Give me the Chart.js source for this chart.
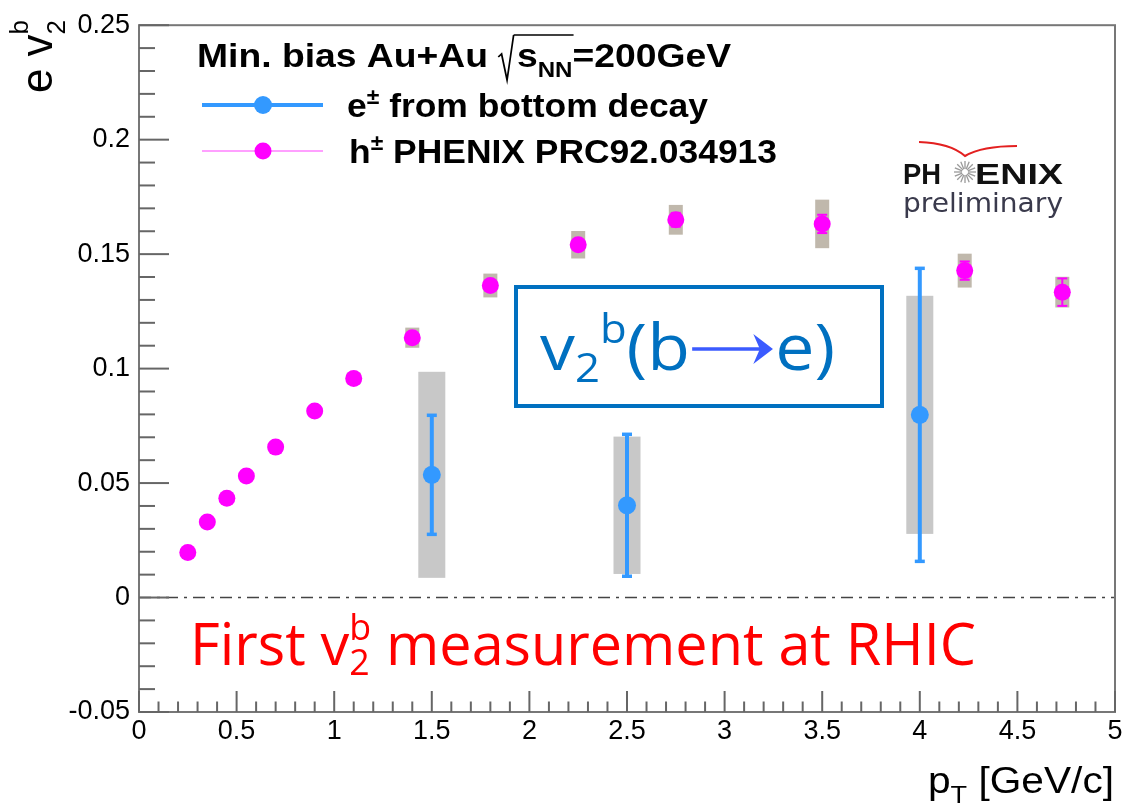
<!DOCTYPE html>
<html><head><meta charset="utf-8">
<script src="https://cdn.jsdelivr.net/npm/chart.js@4.4.1/dist/chart.umd.min.js"></script>
<style>html,body{margin:0;padding:0;background:#fff;}</style>
</head><body>
<canvas id="c" width="1126" height="808"></canvas>
<script>
// ---------------- data ----------------
const xTickLabels = ['0','0.5','1','1.5','2','2.5','3','3.5','4','4.5','5'];
const yTickLabels = ['-0.05','0','0.05','0.1','0.15','0.2','0.25'];

// h+- PHENIX PRC92.034913
const hPt   = [0.25, 0.35, 0.45, 0.55, 0.70, 0.90, 1.10, 1.40, 1.80, 2.25, 2.75, 3.50, 4.23, 4.73];
const hV2   = [0.0197, 0.0330, 0.0434, 0.0531, 0.0657, 0.0815, 0.0957, 0.1135, 0.1363, 0.1541, 0.1650, 0.1632, 0.1428, 0.1334];
const hStat = [0.0003, 0.0003, 0.0003, 0.0004, 0.0004, 0.0005, 0.0006, 0.0008, 0.0010, 0.0020, 0.0030, 0.0040, 0.0040, 0.0060];
const hSys  = [0.0010, 0.0010, 0.0015, 0.0015, 0.0020, 0.0020, 0.0025, 0.0044, 0.0052, 0.0060, 0.0065, 0.0106, 0.0074, 0.0067];

// e+- from bottom decay
const bPt   = [1.5, 2.5, 4.0];
const bV2   = [0.0536, 0.0403, 0.0798];
const bStat = [0.026, 0.031, 0.064];
const bSys  = [0.045, 0.030, 0.052];

const X_MIN = 0, X_MAX = 5, X_STEP = 0.5;
const Y_MIN = -0.05, Y_MAX = 0.25, Y_STEP = 0.05;

// ---------------- helpers ----------------
function segWidth(ctx, s){
  if (s.custom) return s.w;
  if (s.stack){ let m=0; for (const t of s.stack){ ctx.font=t.font; m=Math.max(m, ctx.measureText(t.t).width);} return m; }
  ctx.font = s.font; return ctx.measureText(s.t).width;
}
function drawRich(ctx, x, y, segs, targetW, color){
  let nat = 0; for (const s of segs) nat += segWidth(ctx, s);
  const k = targetW ? targetW/nat : 1;
  ctx.save(); ctx.translate(x, y); ctx.scale(k, 1);
  ctx.fillStyle = color; ctx.strokeStyle = color; ctx.textBaseline = 'alphabetic'; ctx.textAlign='left';
  let cx = 0; const state = {};
  for (const s of segs){
    const w = segWidth(ctx, s);
    if (s.custom) s.custom(ctx, cx, state);
    else if (s.stack){ for (const t of s.stack){ ctx.font=t.font; ctx.fillText(t.t, cx, t.dy||0);} }
    else { ctx.font = s.font; ctx.fillText(s.t, cx, s.dy||0); }
    cx += w;
    if (s.after) s.after(ctx, cx, state);
  }
  ctx.restore();
}
function line(ctx,x1,y1,x2,y2){ ctx.beginPath(); ctx.moveTo(x1,y1); ctx.lineTo(x2,y2); ctx.stroke(); }

// ---------------- plugins ----------------
const errPlugin = {
  id:'errs',
  beforeDatasetsDraw(chart){
    const {ctx, scales:{x, y}} = chart;
    ctx.save();
    ctx.fillStyle = 'rgb(192,184,172)';
    hPt.forEach((p,i)=>{
      const px = x.getPixelForValue(p), y1 = y.getPixelForValue(hV2[i]+hSys[i]), y2 = y.getPixelForValue(hV2[i]-hSys[i]);
      ctx.fillRect(px-7, y1, 14, y2-y1);
    });
    ctx.fillStyle = 'rgb(200,200,200)';
    bPt.forEach((p,i)=>{
      const px = x.getPixelForValue(p), y1 = y.getPixelForValue(bV2[i]+bSys[i]), y2 = y.getPixelForValue(bV2[i]-bSys[i]);
      ctx.fillRect(px-13.5, y1, 27, y2-y1);
    });
    ctx.strokeStyle = '#ff00ff'; ctx.lineWidth = 2;
    hPt.forEach((p,i)=>{
      const px = x.getPixelForValue(p), y1 = y.getPixelForValue(hV2[i]+hStat[i]), y2 = y.getPixelForValue(hV2[i]-hStat[i]);
      line(ctx, px, y1, px, y2); line(ctx, px-5, y1, px+5, y1); line(ctx, px-5, y2, px+5, y2);
    });
    ctx.strokeStyle = '#3399ff';
    bPt.forEach((p,i)=>{
      const px = x.getPixelForValue(p), y1 = y.getPixelForValue(bV2[i]+bStat[i]), y2 = y.getPixelForValue(bV2[i]-bStat[i]);
      ctx.lineWidth = 4; line(ctx, px, y1, px, y2);
      ctx.lineWidth = 3.5; line(ctx, px-5, y1, px+5, y1); line(ctx, px-5, y2, px+5, y2);
    });
    ctx.restore();
  }
};

const decorPlugin = {
  id:'decor',
  afterDraw(chart){
    const {ctx, chartArea:a, scales:{x, y}} = chart;
    ctx.save();
    // frame
    ctx.strokeStyle = '#777'; ctx.lineWidth = 2;
    ctx.strokeRect(a.left, a.top, a.right-a.left, a.bottom-a.top);
    // inward ticks
    ctx.strokeStyle = '#666'; ctx.lineWidth = 2;
    const nY = Math.round((Y_MAX-Y_MIN)/0.01);
    for (let i=0;i<=nY;i++){
      const py = y.getPixelForValue(Y_MIN + i*0.01);
      line(ctx, a.left, py, a.left + (i%5===0 ? 30 : 16), py);
    }
    const nX = Math.round((X_MAX-X_MIN)/0.1);
    for (let i=0;i<=nX;i++){
      const px = x.getPixelForValue(X_MIN + i*0.1);
      line(ctx, px, a.bottom, px, a.bottom - (i%5===0 ? 21 : 10.5));
    }

    // legend
    const dsH = chart.data.datasets[1], dsE = chart.data.datasets[2];
    const B = 'bold 34px "Liberation Sans"', Bs = 'bold 22px "Liberation Sans"';
    drawRich(ctx, 197, 67, [
      {t:'Min. bias Au+Au ', font:B},
      {custom:(c,cx,st)=>{ c.lineWidth=1.6; c.beginPath(); c.moveTo(cx,-10); c.lineTo(cx+3,-13); c.lineTo(cx+8,13); c.lineTo(cx+14,-32); c.stroke(); st.r=cx+14; }, w:17},
      {t:'s', font:B},
      {t:'NN', font:Bs, dy:10, after:(c,cx,st)=>{ c.lineWidth=1.6; line(c, st.r, -32, cx+1, -32); }},
      {t:'=200GeV', font:B}
    ], 534, '#000');
    ctx.strokeStyle = dsE.pointBackgroundColor; ctx.lineWidth = 4; line(ctx, 202, 105, 323, 105);
    ctx.fillStyle = dsE.pointBackgroundColor; ctx.beginPath(); ctx.arc(263,105,9,0,Math.PI*2); ctx.fill();
    drawRich(ctx, 347, 117, [{t:'e', font:B},{t:'\u00B1', font:Bs, dy:-13},{t:' from bottom decay', font:B}], 361, '#000');
    ctx.strokeStyle = '#ff80ff'; ctx.lineWidth = 1.5; line(ctx, 202, 151, 323, 151);
    ctx.fillStyle = dsH.pointBackgroundColor; ctx.beginPath(); ctx.arc(263,151,8.5,0,Math.PI*2); ctx.fill();
    drawRich(ctx, 349, 163, [{t:'h', font:B},{t:'\u00B1', font:Bs, dy:-13},{t:' PHENIX PRC92.034913', font:B}], 428, '#000');

    // PHENIX logo
    ctx.strokeStyle = '#e32020'; ctx.lineWidth = 2.2;
    ctx.beginPath(); ctx.moveTo(919,142); ctx.quadraticCurveTo(950,143,965,156); ctx.quadraticCurveTo(982,146,1017,146); ctx.stroke();
    drawRich(ctx, 903, 184, [{t:'PH', font:'bold 30px "Liberation Sans"'}], 38, '#111');
    drawRich(ctx, 975, 184, [{t:'ENIX', font:'bold 30px "Liberation Sans"'}], 88, '#111');
    ctx.strokeStyle = '#9a9a9a'; ctx.lineWidth = 1.3;
    for (let i=0;i<16;i++){ const ang = i*Math.PI/8; line(ctx, 965+3*Math.cos(ang), 172+3*Math.sin(ang), 965+11*Math.cos(ang), 172+11*Math.sin(ang)); }
    drawRich(ctx, 903, 212, [{t:'preliminary', font:'27px "DejaVu Sans"'}], 160, '#3a3a4c');

    // boxed label
    ctx.strokeStyle = '#0070c0'; ctx.lineWidth = 4;
    ctx.strokeRect(516, 287, 366, 119);
    const BF = '64px "Open Sans"', BFs = '40px "Open Sans"';
    drawRich(ctx, 540, 370, [
      {t:'v', font:BF},{t:'2', font:BFs, dy:12},{t:'b', font:BFs, dy:-27},{t:'(b', font:BF},
      {custom:(c,cx)=>{ c.save(); c.strokeStyle='#3b5bff'; c.fillStyle='#3b5bff'; c.lineWidth=3.5; line(c, cx+2, -21, cx+66, -21);
        c.beginPath(); c.moveTo(cx+76,-21); c.lineTo(cx+58,-36); c.lineTo(cx+64,-21); c.lineTo(cx+58,-6); c.closePath(); c.fill(); c.restore(); }, w:78},
      {t:'e)', font:BF}
    ], 295, '#0070c0');

    // red text
    const RF = '58px "Open Sans"', RFs = '36px "Open Sans"';
    drawRich(ctx, 190, 665, [
      {t:'First v', font:RF},
      {stack:[{t:'b', font:RFs, dy:-25},{t:'2', font:RFs, dy:10}]},
      {t:' measurement at RHIC', font:RF}
    ], 786, '#ff0000');

    // axis titles
    drawRich(ctx, 928, 793, [{t:'p', font:'36px "Liberation Sans"'},{t:'T', font:'24px "Liberation Sans"', dy:10},{t:' [GeV/c]', font:'36px "Liberation Sans"'}], 186, '#000');
    ctx.save(); ctx.translate(52, 93); ctx.rotate(-Math.PI/2);
    drawRich(ctx, 0, 0, [{t:'e v', font:'44px "Liberation Sans"'},{stack:[{t:'b', font:'26px "Liberation Sans"', dy:-24},{t:'2', font:'26px "Liberation Sans"', dy:13}]}], 73, '#000');
    ctx.restore();
    ctx.restore();
  }
};

// ---------------- chart ----------------
new Chart(document.getElementById('c'), {
  type:'scatter',
  data:{ datasets:[
    { label:'zero', type:'line', data:[{x:X_MIN,y:0},{x:X_MAX,y:0}], borderColor:'#444', borderWidth:1.6,
      borderDash:[12,6,3,6], pointRadius:0, order:3 },
    { label:'h\u00B1 PHENIX PRC92.034913', data:hPt.map((p,i)=>({x:p, y:hV2[i]})), pointRadius:8.5,
      pointBackgroundColor:'#ff00ff', pointBorderWidth:0, borderWidth:0, order:2 },
    { label:'e\u00B1 from bottom decay', data:bPt.map((p,i)=>({x:p, y:bV2[i]})), pointRadius:9,
      pointBackgroundColor:'#3399ff', pointBorderWidth:0, borderWidth:0, order:1 }
  ]},
  options:{
    responsive:false, animation:false, devicePixelRatio:1, events:[],
    layout:{ padding:{left:0, top:22, right:11, bottom:0}, autoPadding:false },
    plugins:{ legend:{display:false}, tooltip:{enabled:false} },
    scales:{
      x:{ type:'linear', min:X_MIN, max:X_MAX,
          grid:{display:false, drawTicks:false}, border:{display:false},
          ticks:{ stepSize:X_STEP, autoSkip:false, maxRotation:0, padding:3, color:'#000',
                  font:{family:'Liberation Sans', size:27},
                  callback:v=>xTickLabels[Math.round((v-X_MIN)/X_STEP)] },
          afterFit:s=>{ s.height = 96; } },
      y:{ type:'linear', min:Y_MIN, max:Y_MAX,
          grid:{display:false, drawTicks:false}, border:{display:false},
          ticks:{ stepSize:Y_STEP, autoSkip:false, padding:9, color:'#000',
                  font:{family:'Liberation Sans', size:27},
                  callback:v=>yTickLabels[Math.round((v-Y_MIN)/Y_STEP)] },
          afterFit:s=>{ s.width = 139; } }
    }
  },
  plugins:[errPlugin, decorPlugin]
});
</script>
</body></html>
